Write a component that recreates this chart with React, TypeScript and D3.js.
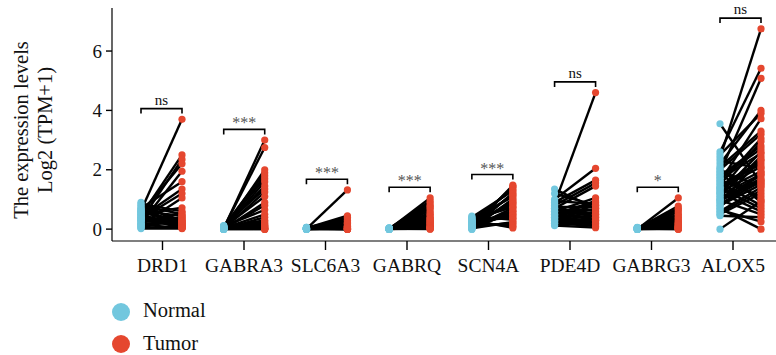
import React from "react";
import * as d3 from "d3";

const genes = ["DRD1", "GABRA3", "SLC6A3", "GABRQ", "SCN4A", "PDE4D", "GABRG3", "ALOX5"];
const signif = ["ns", "***", "***", "***", "***", "ns", "*", "ns"];
const yTicks = [0, 2, 4, 6];

const drd1Normal = [0.62,0.45,0.3,0.55,0.2,0.7,0.4,0.35,0.15,0.5,0.85,0.25,0.6,0.1,0.05,0.75,0.3,0.45,0.2,0.9,0.65,0.35,0.05,0.5,0.15,0.4,0.02,0.55,0.28,0.8,0.12,0.68,0.38,0.58];
const drd1Tumor = [3.7,2.5,2.35,2.2,1.95,1.6,1.35,1.2,1.05,0.72,0.6,0.55,0.45,0.4,0.35,0.3,0.25,0.2,0.18,0.15,0.12,0.1,0.08,0.05,0.04,0.03,0.02,0.3,0.22,0.5,0.42,0.14,0.06,0.26];

const gabra3Normal = [0.02,0.05,0.0,0.1,0.03,0.08,0.0,0.04,0.12,0.01,0.06,0.0,0.02,0.09,0.03,0.0,0.05,0.07,0.01,0.0,0.04,0.02,0.0,0.11,0.03,0.0,0.06,0.01,0.0,0.08];
const gabra3Tumor = [3.0,2.75,2.0,1.9,1.8,1.7,1.6,1.45,1.35,1.25,1.1,0.9,0.8,0.65,0.5,0.4,0.3,0.25,0.15,0.1,0.05,0.02,0.0,0.0,0.03,0.08,0.2,0.0,0.01,0.12];

const slc6a3Normal = [0.01,0.03,0.0,0.05,0.02,0.0,0.04,0.01,0.06,0.0,0.02,0.03,0.0,0.01,0.05,0.0,0.02,0.04,0.0,0.01,0.03,0.0,0.02,0.06,0.01,0.0,0.04,0.02,0.0,0.03];
const slc6a3Tumor = [1.32,0.45,0.4,0.35,0.3,0.25,0.22,0.18,0.15,0.12,0.1,0.08,0.06,0.05,0.04,0.03,0.02,0.01,0,0,0,0,0.02,0.05,0.1,0.2,0.01,0,0.03,0.07];

const gabrqNormal = [0.0,0.02,0.01,0.03,0.0,0.01,0.02,0.0,0.04,0.01,0.0,0.02,0.03,0.0,0.01,0.0,0.02,0.01,0.0,0.03,0.01,0.0,0.02,0.0,0.01,0.04,0.0,0.02,0.01,0.0];
const gabrqTumor = [1.05,0.95,0.88,0.8,0.75,0.7,0.62,0.55,0.5,0.45,0.4,0.35,0.3,0.28,0.25,0.22,0.2,0.18,0.15,0.12,0.1,0.08,0.06,0.05,0.04,0.03,0.02,0.01,0.0,0.35];

const scn4aNormal = [0.05,0.1,0.2,0.3,0.4,0.02,0.15,0.25,0.35,0.0,0.08,0.12,0.18,0.22,0.28,0.32,0.05,0.1,0.0,0.06,0.14,0.2,0.26,0.38,0.44,0.03,0.09,0.16,0.24,0.3];
const scn4aTumor = [1.48,1.44,1.41,1.33,1.29,1.22,1.18,1.13,1.09,1.02,0.98,0.93,0.88,0.86,0.79,0.74,0.71,0.63,0.6,0.54,0.49,0.46,0.39,0.36,0.31,0.24,0.21,0.14,0.09,0.04];

const pde4dNormal = [0.85,1.0,0.9,0.8,0.7,0.6,0.5,0.45,0.4,0.35,0.3,0.25,0.2,0.15,0.55,0.65,0.75,0.95,1.35,1.2,0.3,0.4,0.5,0.6,0.7,0.2,0.25,0.35,0.45,0.12];
const pde4dTumor = [4.6,2.05,1.65,1.55,1.45,1.05,0.95,0.9,0.8,0.7,0.6,0.5,0.4,0.3,0.55,0.65,0.75,0.85,0.7,0.8,0.2,0.25,0.35,0.45,0.5,0.1,0.15,0.3,0.4,0.05];

const gabrg3Normal = [0.0,0.02,0.01,0.04,0.0,0.03,0.01,0.0,0.05,0.02,0.0,0.01,0.03,0.0,0.02,0.06,0.0,0.01,0.02,0.0,0.04,0.01,0.0,0.03,0.02,0.0,0.01,0.05,0.0,0.02];
const gabrg3Tumor = [1.05,0.78,0.7,0.65,0.58,0.5,0.45,0.4,0.35,0.3,0.25,0.22,0.2,0.18,0.15,0.12,0.1,0.08,0.06,0.05,0.04,0.03,0.02,0.01,0,0,0.02,0.05,0.1,0.14];

const alox5Normal = [2.4,2.6,1.9,2.2,2.5,1.6,2.0,1.5,1.3,3.55,0.0,1.8,1.75,1.7,1.1,0.9,1.45,1.4,1.35,2.3,1.25,1.15,1.05,1.0,0.95,0.85,0.8,0.7,0.65,0.6,0.55,0.5,1.65,1.85,2.05,1.55,1.38,1.22,0.98,0.75,2.1,1.95,0.45,1.2];
const alox5Tumor = [6.75,5.42,5.08,4.0,3.9,3.72,3.2,3.05,2.95,1.55,0.95,2.8,2.7,2.55,2.45,2.35,2.3,2.2,2.1,2.05,1.95,1.85,1.8,1.7,1.65,1.6,1.5,0.0,0.25,1.4,1.3,1.2,1.1,1.0,0.9,0.8,0.7,0.6,0.5,1.9,3.3,1.45,0.4,2.6];

const normalSeries = [drd1Normal, gabra3Normal, slc6a3Normal, gabrqNormal, scn4aNormal, pde4dNormal, gabrg3Normal, alox5Normal];
const tumorSeries = [drd1Tumor, gabra3Tumor, slc6a3Tumor, gabrqTumor, scn4aTumor, pde4dTumor, gabrg3Tumor, alox5Tumor];

const NORMAL = "#72C7DE";
const TUMOR = "#E5472F";
const FONT = "'Liberation Serif', 'Times New Roman', serif";

export default function App() {
  const W = 776, H = 355;
  const axisX = 112, axisY = 241;
  const y = d3.scaleLinear().domain([-0.4, 7.45]).range([241, 8]);
  const xTick = d3.scalePoint<string>().domain(genes).range([162.5, 733]);
  const xPts = d3.scalePoint<string>().domain(genes).range([161.5, 740.5]);
  const off = 20.5;
  const r = 3.6;

  return (
    <svg width={W} height={H} style={{ position: "absolute", left: 0, top: 0 }} fontFamily={FONT}>
      <rect width={W} height={H} fill="#fff" />
      {/* lines */}
      <g stroke="#000" strokeWidth={2.4}>
        {genes.map((g, gi) =>
          normalSeries[gi].map((nv, i) => (
            <line key={g + "l" + i}
              x1={xPts(g)! - off} y1={y(nv)}
              x2={xPts(g)! + off} y2={y(tumorSeries[gi][i])} />
          ))
        )}
      </g>
      {/* points */}
      {genes.map((g, gi) => (
        <g key={g + "p"}>
          {normalSeries[gi].map((nv, i) => (
            <circle key={"n" + i} cx={xPts(g)! - off} cy={y(nv)} r={r} fill={NORMAL} />
          ))}
          {tumorSeries[gi].map((tv, i) => (
            <circle key={"t" + i} cx={xPts(g)! + off} cy={y(tv)} r={r} fill={TUMOR} />
          ))}
        </g>
      ))}
      {/* brackets */}
      {genes.map((g, gi) => {
        const mx = Math.max(...normalSeries[gi], ...tumorSeries[gi]);
        const by = y(mx + 0.36);
        const x1 = xPts(g)! - off, x2 = xPts(g)! + off;
        return (
          <g key={g + "b"}>
            <path d={`M${x1},${by + 5}V${by}H${x2}V${by + 5}`} fill="none" stroke="#000" strokeWidth={1.6} />
            <text x={(x1 + x2) / 2} y={signif[gi] === "ns" ? by - 4 : by - 1} textAnchor="middle"
              fontSize={signif[gi] === "ns" ? 15 : 16} fill={signif[gi] === "ns" ? "#111" : "#555"}>{signif[gi]}</text>
          </g>
        );
      })}
      {/* y axis */}
      <line x1={axisX} x2={axisX} y1={8} y2={axisY} stroke="#000" strokeWidth={1.2} />
      {yTicks.map(t => (
        <g key={"yt" + t}>
          <line x1={axisX - 6} x2={axisX} y1={y(t)} y2={y(t)} stroke="#000" strokeWidth={1.4} />
          <text x={axisX - 10} y={y(t)} dy="0.35em" textAnchor="end" fontSize={19} fill="#111">{t}</text>
        </g>
      ))}
      {/* x axis */}
      <line x1={axisX} x2={W} y1={axisY} y2={axisY} stroke="#000" strokeWidth={1.2} />
      {genes.map(g => (
        <g key={"xt" + g}>
          <line x1={xTick(g)} x2={xTick(g)} y1={axisY} y2={axisY + 9} stroke="#000" strokeWidth={1.4} />
          <text x={xTick(g)} y={axisY + 31} textAnchor="middle" fontSize={19.5} fill="#111">{g}</text>
        </g>
      ))}
      {/* y title */}
      <g transform="translate(28,130) rotate(-90)">
        <text x={0} y={0} textAnchor="middle" fontSize={20.5} fill="#111">The expression levels</text>
        <text x={0} y={24} textAnchor="middle" fontSize={20.5} fill="#111">Log2 (TPM+1)</text>
      </g>
      {/* legend */}
      <circle cx={121} cy={312} r={9} fill={NORMAL} />
      <text x={143} y={317} fontSize={20.5} fill="#111">Normal</text>
      <circle cx={121} cy={344} r={9} fill={TUMOR} />
      <text x={143} y={350} fontSize={20.5} fill="#111">Tumor</text>
    </svg>
  );
}
